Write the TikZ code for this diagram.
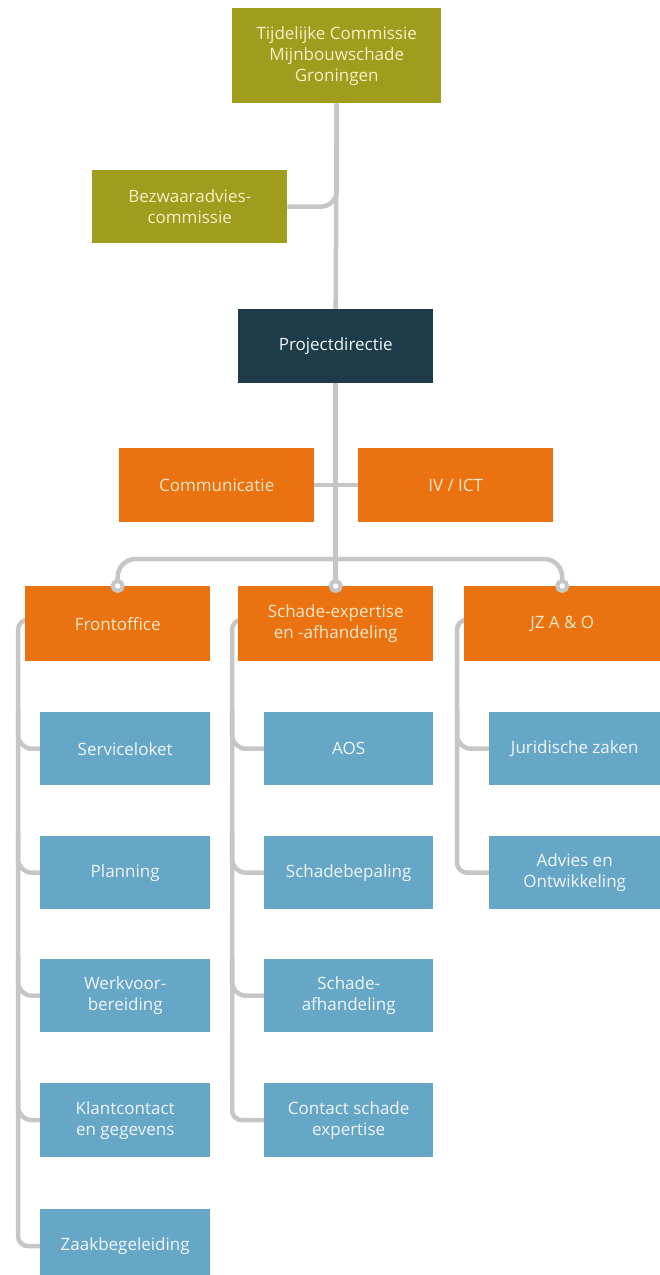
\documentclass[tikz,border=0pt]{standalone}
\usepackage{fontspec}
\setmainfont{Open Sans}
\usetikzlibrary{backgrounds}
\definecolor{olive}{HTML}{9F9C1E}
\definecolor{navy}{HTML}{1E3B4A}
\definecolor{orng}{HTML}{EA7210}
\definecolor{lblue}{HTML}{66A7C7}
\definecolor{conng}{HTML}{C6C6C6}
\definecolor{cream}{HTML}{F6F0C4}
\definecolor{oranget}{HTML}{FBE8C6}
\definecolor{bluet}{HTML}{F0F6F9}
\tikzset{
  box/.style={anchor=north west, inner sep=0pt, align=center, font=\fontsize{17}{21}\selectfont},
  olbox/.style={box, fill=olive, text=cream},
  nvbox/.style={box, fill=navy, text=bluet},
  orbox/.style={box, fill=orng, text=oranget},
  blbox/.style={box, fill=lblue, text=bluet},
  conn/.style={draw=conng, line width=4.5pt, rounded corners=14pt},
  ring/.style={draw=conng, line width=4pt, fill=white},
}
\begin{document}
\begin{tikzpicture}[x=1pt,y=-1pt]
\useasboundingbox (0,0) rectangle (660,1275);
% top level
\node[olbox, minimum width=209pt, minimum height=95pt] (tcmg) at (232,8) {Tijdelijke Commissie\\Mijnbouwschade\\Groningen};
\node[olbox, minimum width=195pt, minimum height=73pt] (bac) at (92,170) {Bezwaaradvies-\\commissie};
\node[nvbox, minimum width=195pt, minimum height=74pt] (pd) at (238,309) {Projectdirectie};
\node[orbox, minimum width=195pt, minimum height=74pt] (comm) at (119,448) {Communicatie};
\node[orbox, minimum width=195pt, minimum height=74pt] (ict) at (358,448) {IV / ICT};
% departments
\node[orbox, minimum width=185pt, minimum height=75pt] (fo) at (25,586) {Frontoffice};
\node[orbox, minimum width=195pt, minimum height=75pt] (se) at (238,586) {Schade-expertise\\en -afhandeling};
\node[orbox, minimum width=196pt, minimum height=75pt] (jz) at (464,586) {JZ A \& O};
% column 1
\node[blbox, minimum width=170pt, minimum height=73pt] (s1) at (40,712) {Serviceloket};
\node[blbox, minimum width=170pt, minimum height=73pt] (s2) at (40,836) {Planning};
\node[blbox, minimum width=170pt, minimum height=73pt] (s3) at (40,959) {Werkvoor-\\bereiding};
\node[blbox, minimum width=170pt, minimum height=74pt] (s4) at (40,1083) {Klantcontact\\en gegevens};
\node[blbox, minimum width=170pt, minimum height=74pt] (s5) at (40,1209) {Zaakbegeleiding};
% column 2
\node[blbox, minimum width=169pt, minimum height=73pt] (a1) at (264,712) {AOS};
\node[blbox, minimum width=169pt, minimum height=73pt] (a2) at (264,836) {Schadebepaling};
\node[blbox, minimum width=169pt, minimum height=73pt] (a3) at (264,959) {Schade-\\afhandeling};
\node[blbox, minimum width=169pt, minimum height=74pt] (a4) at (264,1083) {Contact schade\\expertise};
% column 3
\node[blbox, minimum width=171pt, minimum height=73pt] (j1) at (489,712) {Juridische zaken};
\node[blbox, minimum width=171pt, minimum height=73pt] (j2) at (489,836) {Advies en\\Ontwikkeling};
\begin{scope}[on background layer]
  % trunk
  \draw[conn] (tcmg.south) -- (pd.north);
  \draw[conn] (pd.south) -- (se.north);
  \draw[conn, rounded corners=16pt] (bac.east) -| (tcmg.south);
  \draw[conn] (comm.east) -- (ict.west);
  \draw[conn, rounded corners=18pt] (fo.north) -- ++(0,-27) -| (jz.north);
  % rails
  \draw[conn, rounded corners=10pt] ([xshift=20pt,yshift=4pt]fo.west) -- ++(-27,0) |- (s5.west);
  \draw[conn, rounded corners=10pt] ([xshift=20pt,yshift=4pt]se.west) -- ++(-26,0) |- (a4.west);
  \draw[conn, rounded corners=10pt] ([xshift=20pt,yshift=4pt]jz.west) -- ++(-27,0) |- (j2.west);
  % branches
  \foreach \n in {s1,s2,s3,s4} \draw[conn, rounded corners=14pt] (\n.west) -- ++(-22,0) -- ++(0,-40);
  \foreach \n in {a1,a2,a3} \draw[conn, rounded corners=14pt] (\n.west) -- ++(-32,0) -- ++(0,-40);
  \foreach \n in {j1} \draw[conn, rounded corners=14pt] (\n.west) -- ++(-32,0) -- ++(0,-40);
\end{scope}
% rings
\draw[ring] (fo.north) circle (5pt);
\draw[ring] (se.north) circle (5pt);
\draw[ring] (jz.north) circle (5pt);
\end{tikzpicture}
\end{document}
